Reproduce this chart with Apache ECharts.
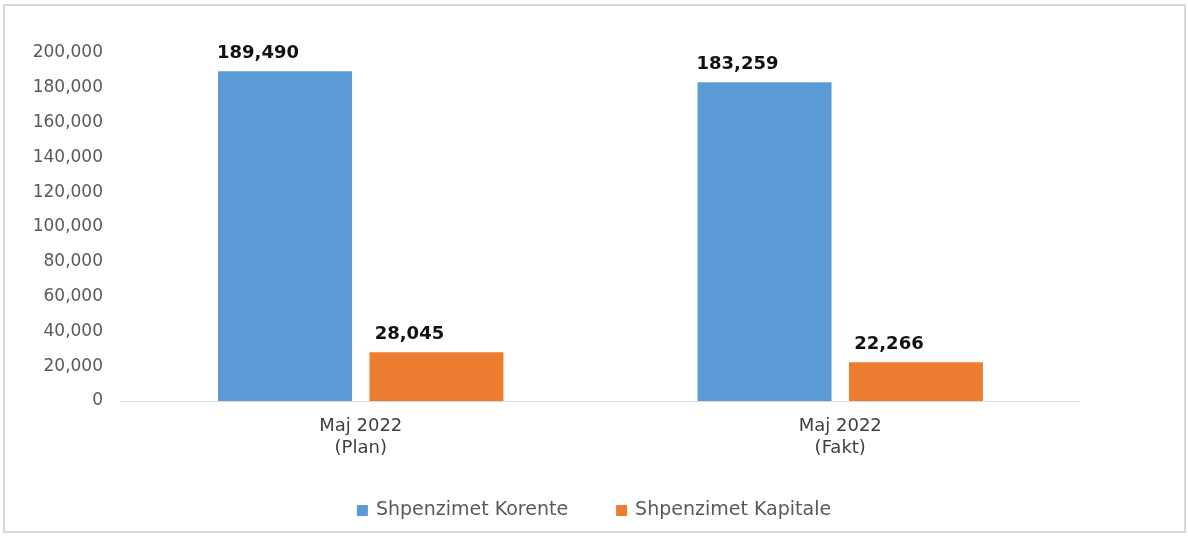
<!DOCTYPE html>
<html>
<head>
<meta charset="utf-8">
<script src="https://cdn.jsdelivr.net/npm/echarts@6/dist/echarts.min.js"></script>
<style>
  html, body { margin: 0; padding: 0; background: #fff; }
  #chart { width: 1188px; height: 537px; }
</style>
</head>
<body>
<div id="chart"></div>
<script>
  // categories and values
  var categories = ['Maj 2022\n(Plan)', 'Maj 2022\n(Fakt)'];
  var korente = [189490, 183259];
  var kapitale = [28045, 22266];
  var seriesNames = ['Shpenzimet Korente', 'Shpenzimet Kapitale'];

  var chart = echarts.init(document.getElementById('chart'));
  var fmt = function (v) { return Number(v).toLocaleString('en-US'); };

  // data labels sit a bit left of the bar centre, like in the original
  var labelStyle = {
    show: true,
    position: 'top',
    distance: 9,
    offset: [-27, 0],
    color: '#111',
    fontSize: 18,
    fontWeight: 'bold',
    fontFamily: 'DejaVu Sans',
    formatter: function (p) { return fmt(p.value); }
  };

  var option = {
    animation: false,
    textStyle: { fontFamily: 'DejaVu Sans' },
    graphic: [{
      type: 'rect',
      shape: { x: 4, y: 5, width: 1181, height: 527 },
      style: { fill: 'none', stroke: '#d9d9d9', lineWidth: 2 },
      silent: true
    }],
    grid: { left: 121, right: 108, top: 53, bottom: 136 },
    legend: {
      bottom: 12,
      left: 'center',
      icon: 'rect',
      itemWidth: 11,
      itemHeight: 11,
      itemGap: 48,
      textStyle: { color: '#595959', fontSize: 19, fontFamily: 'DejaVu Sans', padding: [0, 0, 0, 3] },
      data: seriesNames
    },
    xAxis: {
      type: 'category',
      data: categories,
      axisLine: { lineStyle: { color: '#d9d9d9', width: 1 } },
      axisTick: { show: false },
      axisLabel: { color: '#404040', fontSize: 18, lineHeight: 22, margin: 14, fontFamily: 'DejaVu Sans' }
    },
    yAxis: {
      type: 'value',
      min: 0,
      max: 200000,
      interval: 20000,
      axisLine: { show: false },
      axisTick: { show: false },
      splitLine: { show: false },
      axisLabel: {
        color: '#595959',
        fontSize: 17,
        margin: 18,
        fontFamily: 'DejaVu Sans',
        formatter: function (v) { return fmt(v); }
      }
    },
    series: [
      {
        name: seriesNames[0],
        type: 'bar',
        data: korente,
        barWidth: 134,
        barGap: '13%',
        itemStyle: { color: '#5b9bd5' },
        label: labelStyle
      },
      {
        name: seriesNames[1],
        type: 'bar',
        data: kapitale,
        barWidth: 134,
        barGap: '13%',
        itemStyle: { color: '#ed7d31' },
        label: labelStyle
      }
    ]
  };

  option && chart.setOption(option);
</script>
</body>
</html>
